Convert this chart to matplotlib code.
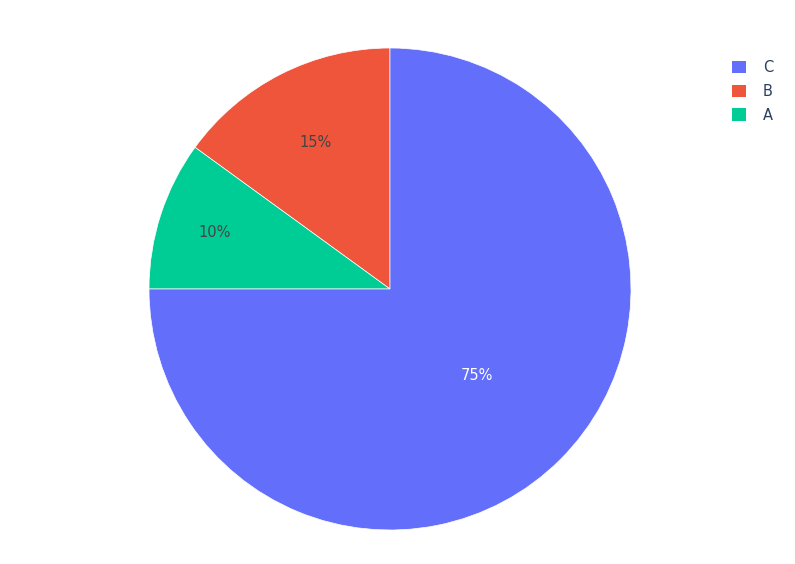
import numpy as np
import matplotlib.pyplot as plt
from matplotlib.patches import Patch

labels = ['B', 'A', 'C']
values = [15, 10, 75]
colors = ['#EF553B', '#00cc96', '#636efa']
text_colors = ['#444444', '#444444', 'white']
text_dist = [0.68, 0.765, 0.51]
legend_order = ['C', 'B', 'A']

plt.rcParams['font.family'] = ['DejaVu Sans']

fig = plt.figure(figsize=(7.95, 5.64), dpi=100)
r = 241
ax = fig.add_axes([(390 - r) / 795, (564 - 289 - r) / 564, 2 * r / 795, 2 * r / 564])

wedges, texts, autotexts = ax.pie(
    values, colors=colors, startangle=90, counterclock=True,
    autopct='%1.0f%%', radius=1.0,
    wedgeprops=dict(edgecolor='white', linewidth=0.5),
    textprops=dict(fontsize=10.5))

# move the percent labels to where plotly puts them
for w, t, d, c in zip(wedges, autotexts, text_dist, text_colors):
    ang = np.deg2rad((w.theta1 + w.theta2) / 2)
    t.set_position((d * np.cos(ang), d * np.sin(ang)))
    t.set_color(c)

ax.set_xlim(-1, 1)
ax.set_ylim(-1, 1)
ax.set_aspect('equal')

handles = [Patch(facecolor=colors[labels.index(l)], label=l) for l in legend_order]
leg = fig.legend(handles=handles, loc='upper left', bbox_to_anchor=(719 / 795, 1 - 47 / 564),
                 frameon=False, fontsize=10.5, handlelength=0.95, handleheight=0.95,
                 handletextpad=1.15, labelspacing=0.6)
for t in leg.get_texts():
    t.set_color('#2a3f5f')

fig.savefig('out.png', dpi=100)
